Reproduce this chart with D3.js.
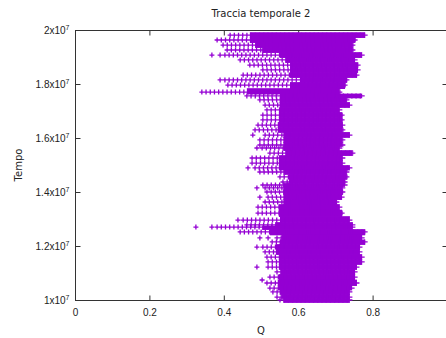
<!DOCTYPE html>
<html><head><meta charset="utf-8">
<script src="https://cdn.jsdelivr.net/npm/d3@7"></script>
<style>body{margin:0;background:#fff}svg{display:block;font-family:"DejaVu Sans",sans-serif}</style>
</head><body>
<svg id="c" width="446" height="338"></svg>
<script>
// time (units of 1e7) of each sampled row
const rowT = [1.981,1.963,1.944,1.926,1.907,1.889,1.870,1.852,1.833,1.815,1.796,1.770,1.756,1.741,1.722,1.704,1.685,1.667,1.648,1.630,1.611,1.593,1.574,1.563,1.544,1.526,1.507,1.489,1.474,1.456,1.437,1.426,1.415,1.400,1.381,1.363,1.344,1.322,1.296,1.278,1.270,1.252,1.230,1.215,1.196,1.178,1.159,1.141,1.122,1.104,1.085,1.063,1.044,1.030,1.011,1.000];
// leftmost Q of the row
const rowStart = [.417,.382,.398,.409,.403,.444,.470,.505,.452,.403,.411,.341,.462,.497,.511,.516,.505,.505,.492,.484,.511,.497,.497,.503,.524,.476,.476,.484,.497,.551,.559,.505,.511,.516,.519,.511,.492,.492,.452,.462,.382,.444,.543,.530,.505,.511,.516,.519,.519,.543,.524,.516,.524,.532,.543,.551];
// Q where the dense cloud begins
const rowSolid = [.470,.470,.484,.503,.551,.565,.578,.578,.578,.605,.578,.462,.551,.550,.550,.550,.548,.548,.545,.545,.560,.560,.560,.560,.565,.548,.548,.548,.560,.575,.575,.560,.560,.560,.560,.560,.548,.548,.551,.538,.503,.524,.555,.550,.540,.540,.548,.548,.548,.552,.548,.545,.548,.550,.555,.560];
// rightmost Q of the row
const rowEnd = [.780,.753,.747,.747,.772,.753,.761,.761,.758,.731,.726,.712,.772,.731,.739,.712,.718,.718,.720,.720,.739,.720,.720,.712,.747,.720,.720,.739,.731,.731,.726,.726,.720,.720,.718,.704,.712,.718,.739,.747,.747,.780,.772,.780,.766,.766,.772,.772,.758,.753,.753,.758,.745,.739,.739,.739];
// isolated samples
const isoT = [1.907,1.907,1.815,1.611,1.563,1.489,1.415,1.381,1.296,1.270,1.270,1.230,1.230,1.196,1.122,1.074];
const isoQ = [.368,.390,.390,.478,.489,.465,.489,.497,.438,.325,.368,.497,.519,.489,.489,.503];

const xTicks = [0,0.2,0.4,0.6,0.8];
const xTickLabels = ["0","0.2","0.4","0.6","0.8"];
const yTicks = [1,1.2,1.4,1.6,1.8,2];
const yTickLabels = ["1","1.2","1.4","1.6","1.8","2"];
const titleText = "Traccia temporale 2", xLabel = "Q", yLabel = "Tempo";
const color = "#9400d3";

const svg = d3.select("#c");
const L = 75, R = 447, T = 30, B = 300;
const x = d3.scaleLinear([0,1],[L,R]);
const y = d3.scaleLinear([1,2],[B,T]);

const rows = rowT.map((t,i)=>({t, s:rowStart[i], c:rowSolid[i], e:rowEnd[i]}));

// border
svg.append("rect").attr("x",L+0.5).attr("y",T+0.5).attr("width",R-L).attr("height",B-T)
  .attr("fill","none").attr("stroke","#333").attr("stroke-width",1);

// axes
const ax = svg.append("g").attr("font-size",10).attr("font-family","DejaVu Sans, sans-serif");
ax.append("g").attr("transform",`translate(0,${B+0.5})`)
  .call(d3.axisBottom(x).tickValues(xTicks).tickSize(-5).tickPadding(8).tickFormat((d,i)=>xTickLabels[i]));
ax.append("g").attr("transform",`translate(0,${T+0.5})`)
  .call(d3.axisTop(x).tickValues(xTicks.slice(1)).tickSize(-5).tickFormat(""));
const ly = ax.append("g").attr("transform",`translate(${L+0.5},0)`)
  .call(d3.axisLeft(y).tickValues(yTicks).tickSize(-5).tickPadding(6).tickFormat((d,i)=>yTickLabels[i]));
ax.append("g").attr("transform",`translate(${R+0.5},0)`)
  .call(d3.axisRight(y).tickValues(yTicks).tickSize(-5).tickFormat(""));
ax.selectAll(".domain").remove();
ax.selectAll(".tick line").attr("stroke","#333");
ax.selectAll("text").attr("fill","#222").attr("font-size",10);
ly.selectAll(".tick text").each(function(d,i){
  const s = d3.select(this); const m = yTickLabels[i];
  s.text(null);
  s.append("tspan").text(m + "x10");
  s.append("tspan").attr("font-size",7).attr("dy",-4).text("7");
});

// data
const g = svg.append("g");
const topOf = i => i===0 ? y(rows[i].t)-2.5 : (y(rows[i].t)+y(rows[i-1].t))/2;
const botOf = i => i===rows.length-1 ? y(rows[i].t)+2.5 : (y(rows[i].t)+y(rows[i+1].t))/2;
// dense core
g.selectAll("rect.core").data(rows).join("rect").attr("class","core")
  .attr("x",d=>x(d.c)).attr("width",d=>x(d.e)-x(d.c))
  .attr("y",(d,i)=>topOf(i)-0.4)
  .attr("height",(d,i)=>botOf(i)-topOf(i)+0.8)
  .attr("fill",color);
// rows of + markers
g.selectAll("line.h").data(rows).join("line").attr("class","h")
  .attr("x1",d=>x(d.s)-2.5).attr("x2",d=>x(d.e)+2.5)
  .attr("y1",d=>y(d.t)).attr("y2",d=>y(d.t))
  .attr("stroke",color).attr("stroke-width",1.3);
g.selectAll("line.v").data(rows).join("line").attr("class","v")
  .attr("x1",d=>x(d.s)-0.65).attr("x2",d=>x(d.e)+0.65)
  .attr("y1",d=>y(d.t)).attr("y2",d=>y(d.t))
  .attr("stroke",color).attr("stroke-width",5).attr("stroke-dasharray","1.3 2.9");
// isolated markers
g.selectAll("path.iso").data(isoT.map((t,i)=>({t,q:isoQ[i]}))).join("path").attr("class","iso")
  .attr("transform",d=>`translate(${x(d.q)},${y(d.t)})`)
  .attr("d","M-2.5,0H2.5M0,-2.5V2.5").attr("stroke",color).attr("stroke-width",1.3).attr("fill","none");

// titles
svg.append("text").attr("x",(L+R)/2).attr("y",17).attr("text-anchor","middle")
  .attr("font-size",10).attr("fill","#222").text(titleText);
svg.append("text").attr("x",(L+R)/2).attr("y",334).attr("text-anchor","middle")
  .attr("font-size",10).attr("fill","#222").text(xLabel);
svg.append("text").attr("transform",`translate(22,${(T+B)/2}) rotate(-90)`).attr("text-anchor","middle")
  .attr("font-size",10).attr("fill","#222").text(yLabel);
</script>
</body></html>
